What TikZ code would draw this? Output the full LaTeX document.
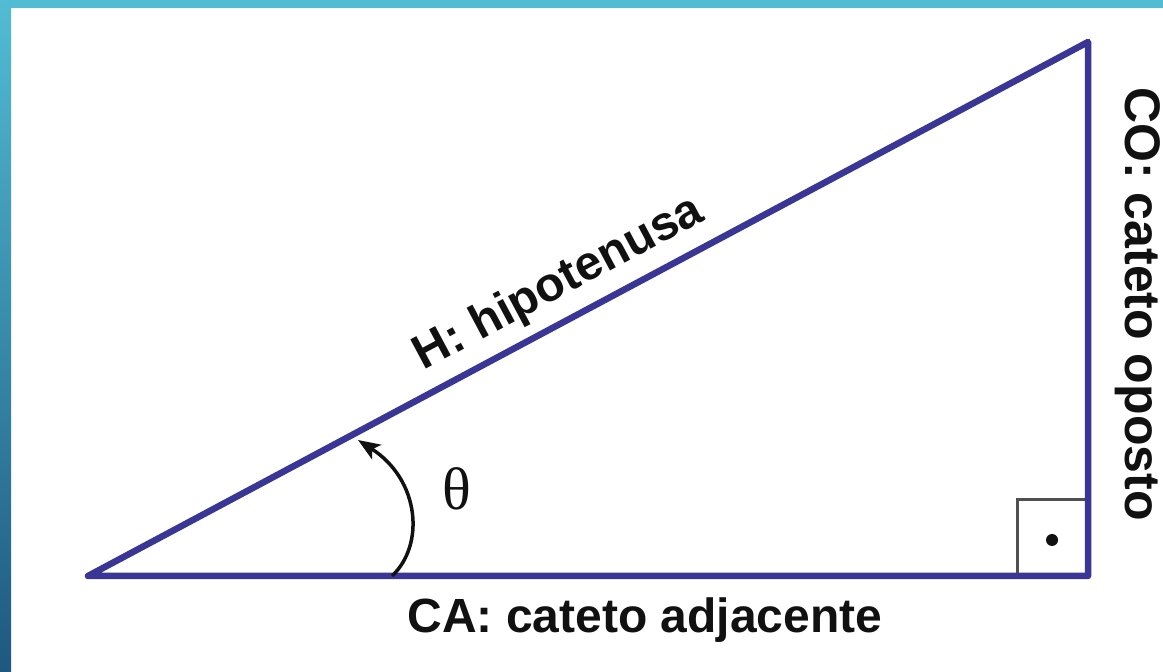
\documentclass[tikz,border=0pt]{standalone}
\usepackage{fontspec}
\setmainfont{Liberation Sans}
\newfontfamily\serifgreek{Liberation Serif}
\usetikzlibrary{arrows.meta}
\definecolor{triblue}{RGB}{58,54,150}
\definecolor{bandtop}{RGB}{82,188,212}
\definecolor{bandbot}{RGB}{30,88,128}
\definecolor{boxgray}{RGB}{80,80,80}
\definecolor{inkblack}{RGB}{17,17,17}
\tikzset{
  triline/.style={draw=triblue, line width=6.5pt, line join=round, line cap=round},
  anglebox/.style={draw=boxgray, line width=3pt},
  anglearc/.style={draw=inkblack, line width=3.5pt, -{Stealth[length=22pt,width=17pt,inset=5pt]}},
  lbl/.style={inner sep=0pt, text=inkblack, font=\fontsize{48}{52}\selectfont\bfseries},
}
\begin{document}
\begin{tikzpicture}[x=1pt,y=1pt]
\useasboundingbox (0,0) rectangle (1163,672);
\fill[white] (0,0) rectangle (1163,672);
% border bands
\fill[bandtop] (0,664) rectangle (1163,672);
\shade[top color=bandtop, bottom color=bandbot] (0,0) rectangle (11,672);
% vertices
\coordinate (A) at (88,96);
\coordinate (B) at (1088,96);
\coordinate (C) at (1088,630);
% right-angle box
\coordinate (R1) at (1017,96);
\coordinate (R2) at (1017,172);
\coordinate (R3) at (1088,172);
\draw[anglebox] (R1) -- (R2) -- (R3);
\fill[inkblack] (1052,132) circle (6);
% triangle
\draw[triline] (A) -- (B) -- (C) -- cycle;
% angle arc
\coordinate (arcS) at (392,96);
\coordinate (arcE) at (358,232);
\draw[anglearc] (arcS) .. controls (425,127) and (420,192) .. (arcE);
\node[inner sep=0pt, text=inkblack, font=\serifgreek\fontsize{60}{62}\selectfont] (theta) at (457,183) {θ};
% labels
\node[lbl, anchor=base, rotate=28.1] (hyp) at (565,377) {H: hipotenusa};
\node[lbl, anchor=base] (ca) at (645,39) {CA: cateto adjacente};
\node[lbl, anchor=base, rotate=-90, font=\fontsize{50}{54}\selectfont\bfseries] (co) at (1125,368) {CO: cateto oposto};
\end{tikzpicture}
\end{document}
